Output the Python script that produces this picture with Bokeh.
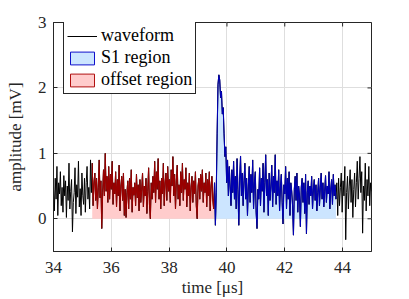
import numpy as np
from bokeh.plotting import figure
from bokeh.models import Legend, LegendItem, FixedTicker, Range1d
from bokeh.embed import file_html
from bokeh.resources import INLINE

# ---- data ----
x_ticks = [34, 36, 38, 40, 42, 44]
y_ticks = [0, 1, 2, 3]
bounds = [34.0, 35.34, 39.57, 43.77, 45.0]   # pre | offset region | S1 region | post

pre = [0.45, 0.12, 0.62, 0.30, 0.80, 0.05, 0.55, 0.38, 0.72, 0.20,
       0.48, 0.10, 0.66, 0.35, 0.58, 0.02, 0.50, 0.28, 0.85, 0.15,
       0.42, 0.60, -0.20, 0.25, 0.40, 0.78, 0.08, 0.52, 0.33, 0.88,
       0.18, 0.46, 0.05, 0.70, 0.36, 0.22, 0.62, 0.10, 0.55, 0.80,
       0.30, 0.48, 0.15, 0.90, 0.40]

offset_vals = [0.85, 0.20, 0.55, 0.70, 0.28, 0.62, 0.15, 0.48, 0.90, 0.32,
               0.58, -0.15, 0.40, 0.75, 0.35, 1.00, 0.42, 0.65, 0.25, 0.80,
               0.30, 0.68, 0.45, 0.88, 0.22, 0.55, 0.38, 0.72, 0.18, 0.60,
               0.35, 0.82, 0.12, 0.50, 0.65, 0.28, 0.70, 0.05, 0.45, 0.02,
               0.40, 0.58, 0.15, 0.62, 0.30, 0.75, 0.10, 0.48, 0.36, 0.55,
               0.20, 0.68, 0.32, 0.52, 0.12, 0.60, 0.25, 0.45, 0.70, 0.18,
               0.50, 0.35, 0.62, 0.08, 0.42, 0.78, 0.22, 0.00, 0.55, 0.30,
               0.65, 0.40, 0.88, 0.25, 0.72, 0.45, 0.92, 0.30, 0.58, 0.15,
               0.62, 0.38, 0.85, 0.20, 0.55, 0.70, 0.28, 0.80, 0.42, 0.60,
               0.25, 0.75, 0.50, 0.95, 0.35, 0.68, 0.15, 0.58, 0.82, 0.30,
               0.52, 0.20, 0.72, 0.40, 0.85, 0.28, 0.60, 0.45, 0.78, 0.18,
               0.55, 0.35, 0.70, 0.12, 0.48, 0.65, 0.25, 0.58, 0.38, 0.72,
               0.20, 0.00, 0.50, 0.62, 0.30, 0.68, 0.42, 0.75, 0.25, 0.55,
               0.40, 0.70, 0.18, 0.60, 0.35, 0.72, 0.12, 0.50, 0.65, 0.30,
               0.15]

s1_vals = [0.55, -0.10, 0.40, 1.30, 2.05, 2.20, 2.12, 1.85, 1.95, 1.60,
           1.70, 1.30, 0.95, 1.10, 0.55, 0.90, 0.35, 0.80, 0.50, 0.20,
           0.75, 0.40, 0.88, 0.30, 0.65, 0.15, 0.92, 0.45, -0.10, 0.60,
           0.96, 0.35, 0.70, 0.20, 0.58, 0.85, 0.30, 0.62, 0.05, 0.50,
           0.80, 0.25, 0.68, 0.40, 0.90, 0.15, 0.55, 0.72, 0.10, -0.15,
           0.45, 0.30, 0.78, 0.20, 0.62, 0.42, 0.85, 0.10, 0.55, 0.98,
           0.35, 0.60, 0.05, 0.70, 0.28, 0.50, 0.82, 0.18, 0.65, 0.40,
           0.98, 0.22, 0.58, 0.35, 0.75, 0.12, 0.48, 0.68, 0.25, -0.08,
           0.52, 0.38, 0.80, 0.15, 0.62, 0.30, 0.72, 0.05, 0.55, 0.42,
           0.20, -0.25, 0.45, 0.65, 0.28, 0.70, 0.10, 0.50, 0.35, -0.12,
           0.48, 0.62, 0.25, 0.55, 0.08, 0.68, -0.23, 0.40, 0.58, 0.22,
           0.50, 0.35, 0.65, 0.15, 0.45, 0.60, 0.28, 0.52, 0.12, 0.40,
           0.62, 0.20, 0.48, 0.70, 0.30, 0.55, 0.18, 0.42, 0.66, 0.25,
           0.50, 0.38, 0.72, 0.15, 0.45, 0.60, 0.22, 0.68, 0.35, 0.52]

post = [0.30, 0.55, 0.05, 0.62, 0.20, 0.48, 0.70, 0.10, 0.58, 0.35,
        0.80, -0.32, 0.40, 0.65, 0.15, 0.50, 0.75, 0.25, 0.60, 0.02,
        0.45, 0.70, 0.18, 0.55, 0.88, 0.30, 0.62, 0.95, 0.40, 0.72,
        -0.22, 0.50, 0.28, 0.85, 0.12, 0.60, 0.35, 0.80, 0.20, 0.55,
        0.42]

# ---- sample times for each segment ----
t_pre = np.linspace(bounds[0], bounds[1], len(pre), endpoint=False)
t_off = np.linspace(bounds[1], bounds[2], len(offset_vals), endpoint=False)
t_s1 = np.linspace(bounds[2], bounds[3], len(s1_vals), endpoint=False)
t_post = np.linspace(bounds[3], bounds[4], len(post), endpoint=True)

t_all = np.concatenate([t_pre, t_off, t_s1, t_post])
y_all = np.concatenate([pre, offset_vals, s1_vals, post])

FONT = "Liberation Serif"
AX = "#262626"
X0, X1 = bounds[0], bounds[-1]
Y0, Y1 = -0.5, 3

p = figure(width=409, height=299, x_range=Range1d(X0, X1), y_range=Range1d(Y0, Y1),
           output_backend="svg", toolbar_location=None,
           min_border_left=53, min_border_right=38, min_border_top=22, min_border_bottom=48)
p.background_fill_color = "white"
p.border_fill_color = "white"
p.outline_line_color = AX
p.outline_line_width = 1

# fills
off_x = np.append(t_off, t_s1[0])
off_line = np.append(offset_vals, s1_vals[0])
s1_x = np.append(t_s1, t_post[0])
s1_line = np.append(s1_vals, post[0])
p.varea(x=off_x, y1=0, y2=np.clip(off_line, 0, None), fill_color="#ffcccc")
p.varea(x=s1_x, y1=0, y2=np.clip(s1_line, 0, None), fill_color="#cce5ff")

# lines
wave = p.line(t_all, y_all, line_color="black", line_width=1)
p.line(off_x, off_line, line_color="#990000", line_width=1.1)
p.line(s1_x, s1_line, line_color="#0000b3", line_width=1.1)

# inward ticks on top and right edges (clipped to frame, so only the inner half shows)
p.scatter(x=x_ticks, y=[Y1] * len(x_ticks), marker="dash", angle=np.pi / 2, size=8,
          line_color=AX, line_width=1)
p.scatter(x=[X1] * len(y_ticks), y=y_ticks, marker="dash", size=8,
          line_color=AX, line_width=1)

# legend-only patches (no visible data)
nan = [np.nan]
s1_patch = p.quad(left=nan, right=nan, top=nan, bottom=nan, fill_color="#cce5ff",
                  line_color="#1010cc", line_width=1)
off_patch = p.quad(left=nan, right=nan, top=nan, bottom=nan, fill_color="#ffcccc",
                   line_color="#b01010", line_width=1)

legend = Legend(items=[LegendItem(label="waveform", renderers=[wave]),
                       LegendItem(label="S1 region", renderers=[s1_patch]),
                       LegendItem(label="offset region", renderers=[off_patch])],
                location=(10, 157))
legend.label_text_font = FONT
legend.label_text_font_size = "18px"
legend.label_text_color = "black"
legend.glyph_width = 30
legend.glyph_height = 16
legend.label_height = 20
legend.label_standoff = 4
legend.spacing = 1
legend.padding = 3
legend.margin = 0
legend.border_line_color = AX
legend.border_line_width = 1
legend.border_line_alpha = 1
legend.background_fill_color = "white"
legend.background_fill_alpha = 1
p.add_layout(legend)

# grids
for g in (p.xgrid, p.ygrid):
    g.grid_line_color = "#dedede"
    g.grid_line_width = 1
p.xgrid.ticker = FixedTicker(ticks=x_ticks)
p.ygrid.ticker = FixedTicker(ticks=y_ticks)


def style_axis(ax):
    ax.axis_line_color = AX
    ax.major_tick_line_color = AX
    ax.major_tick_in = 4
    ax.major_tick_out = 0
    ax.minor_tick_line_color = None
    ax.major_label_text_font = FONT
    ax.major_label_text_font_size = "17px"
    ax.major_label_text_color = AX
    ax.axis_label_text_font = FONT
    ax.axis_label_text_font_size = "17px"
    ax.axis_label_text_font_style = "normal"
    ax.axis_label_text_color = AX


p.xaxis.ticker = FixedTicker(ticks=x_ticks)
p.yaxis.ticker = FixedTicker(ticks=y_ticks)
style_axis(p.xaxis[0])
style_axis(p.yaxis[0])
p.xaxis.axis_label = "time [μs]"
p.yaxis.axis_label = "amplitude [mV]"
p.xaxis.major_label_standoff = 10
p.xaxis.axis_label_standoff = 2
p.yaxis.major_label_standoff = 7
p.yaxis.axis_label_standoff = 10

open("out.html", "w").write(file_html(p, INLINE))
